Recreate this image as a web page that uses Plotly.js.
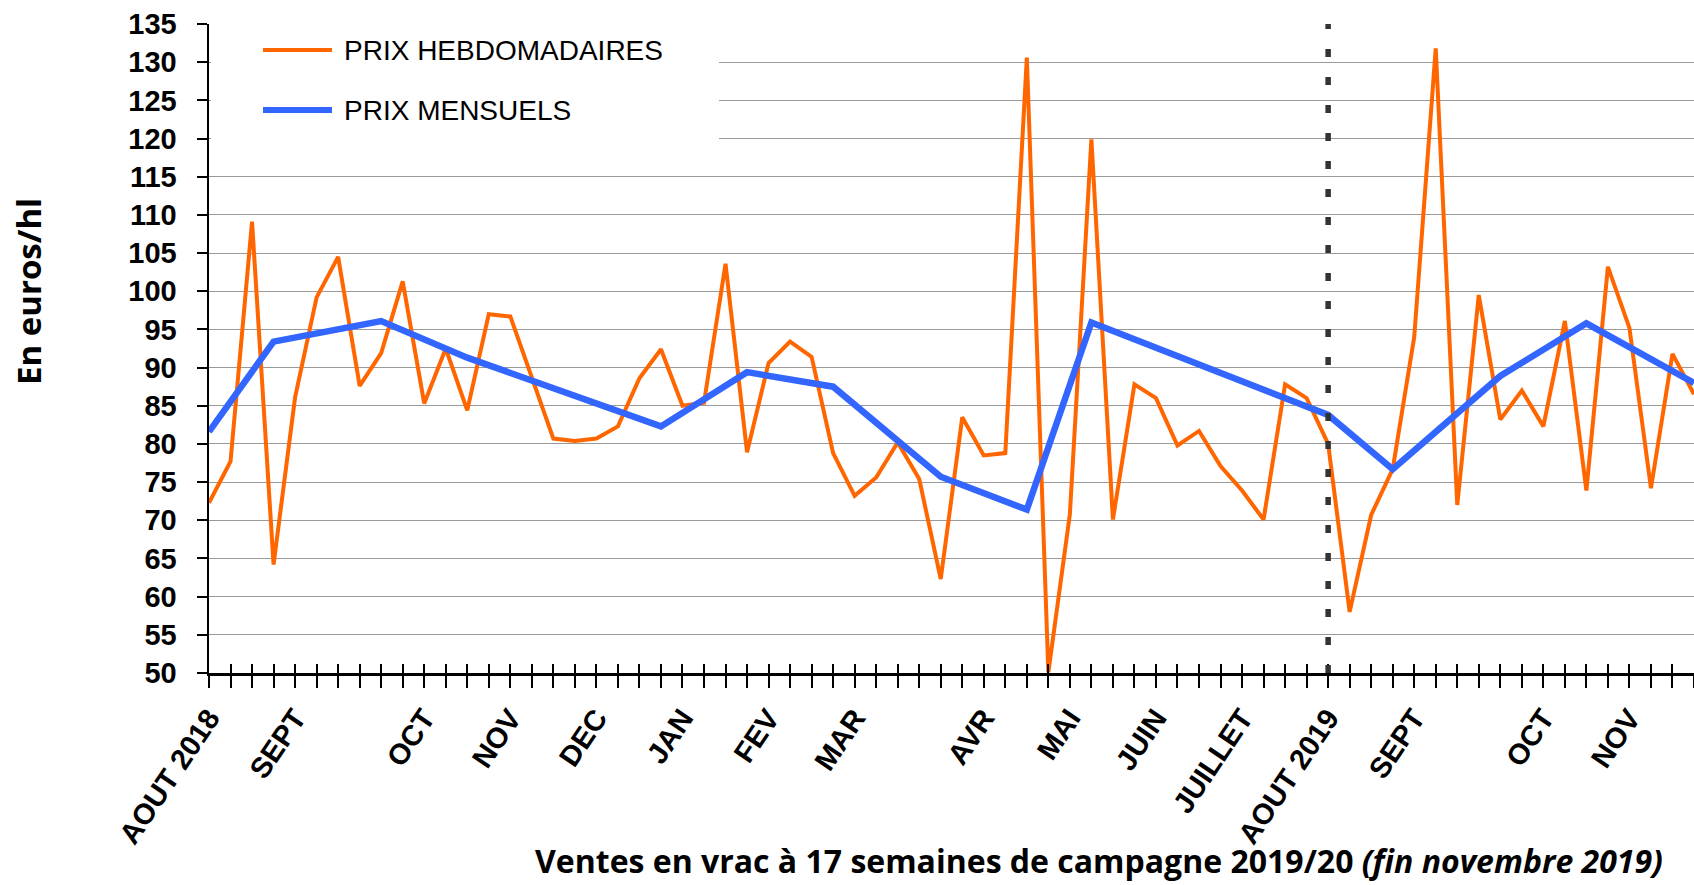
<!DOCTYPE html>
<html>
<head>
<meta charset="utf-8">
<script src="https://cdn.plot.ly/plotly-3.0.1.min.js"></script>
<style>
  html, body { margin: 0; padding: 0; background: #ffffff; }
  #chart { width: 1694px; height: 885px; }
</style>
</head>
<body>
<div id="chart"></div>
<script>
// ---- Data ----
const weeks = [0,1,2,3,4,5,6,7,8,9,10,11,12,13,14,15,16,17,18,19,20,21,22,23,24,25,26,27,28,29,30,31,32,33,34,35,36,37,38,39,40,41,42,43,44,45,46,47,48,49,50,51,52,53,54,55,56,57,58,59,60,61,62,63,64,65,66,67,68,69];
const weeklyPrices = [72.3,77.7,109.1,64.2,86.1,99.2,104.5,87.6,91.9,101.3,85.3,92.5,84.4,97.0,96.7,88.5,80.7,80.4,80.7,82.3,88.6,92.4,85.0,85.4,103.6,78.9,90.6,93.4,91.4,78.8,73.2,75.6,80.2,75.4,62.3,83.5,78.5,78.8,130.6,50.1,70.8,119.9,70.1,87.8,86.0,79.8,81.7,77.1,73.9,70.1,87.8,86.0,80.0,58.0,70.7,76.7,94.0,131.8,72.0,99.5,83.2,87.0,82.3,96.1,73.9,103.2,95.2,74.2,91.8,86.5];
const monthlyWeeks = [0,3,8,12,21,25,29,34,38,41,52,55,60,64,69];
const monthlyPrices = [81.6,93.4,96.1,91.3,82.3,89.4,87.5,75.7,71.4,95.9,83.8,76.7,88.9,95.8,88.0];
const monthTickWeeks = [0,4,10,14,18,22,26,30,36,40,44,48,52,56,62,66];
const monthTickLabels = ["AOUT 2018","SEPT","OCT","NOV","DEC","JAN","FEV","MAR","AVR","MAI","JUIN","JUILLET","AOUT 2019","SEPT","OCT","NOV"];
const campaignStartWeek = 52;
const seriesNames = ["PRIX HEBDOMADAIRES", "PRIX MENSUELS"];
const yTitle = "En euros/hl";
const xTitle = "Ventes en vrac à 17 semaines de campagne 2019/20 <i>(fin novembre 2019)</i>";

// ---- Styles ----
const ORANGE = "#FF6600";
const BLUE = "#3366FF";
const W = 1694, H = 885;
const L = 209, R = 0, T = 24, B = 212;
const plotW = W - L - R, plotH = H - T - B;
const px = v => (v - L) / plotW;          // pixel x -> paper
const py = v => (H - B - v) / plotH;      // pixel y -> paper

const traces = [
  {
    x: weeks, y: weeklyPrices, name: seriesNames[0], type: "scatter", mode: "lines",
    line: { color: ORANGE, width: 4, shape: "linear" }, showlegend: false, cliponaxis: true
  },
  {
    x: monthlyWeeks, y: monthlyPrices, name: seriesNames[1], type: "scatter", mode: "lines",
    line: { color: BLUE, width: 6.5, shape: "linear" }, showlegend: false
  },
  { x: [], y: [], xaxis: "x2", yaxis: "y", showlegend: false, hoverinfo: "skip" }
];

const tickFont = { family: "Liberation Sans, Arial, sans-serif", size: 29, color: "#000", weight: 700 };
const titleFamily = "Open Sans, Lato, sans-serif";

const layout = {
  width: W, height: H,
  margin: { l: L, r: R, t: T, b: B, pad: 0 },
  paper_bgcolor: "#ffffff", plot_bgcolor: "#ffffff",
  font: { family: "Liberation Sans, Arial, sans-serif", color: "#000" },
  showlegend: false,
  xaxis: {
    range: [0, 69], showgrid: false, zeroline: false,
    showline: true, linecolor: "#000", linewidth: 2.5,
    tickmode: "array", tickvals: monthTickWeeks, ticktext: monthTickLabels,
    ticks: "outside", ticklen: 12, tickwidth: 2, tickcolor: "#000",
    minor: { tickmode: "linear", tick0: 0, dtick: 1, ticks: "outside", ticklen: 12, tickwidth: 2, tickcolor: "#000", showgrid: false },
    tickangle: -56, tickfont: tickFont, ticklabelstandoff: 2
  },
  xaxis2: {
    overlaying: "x", anchor: "y", range: [0, 69], showgrid: false, zeroline: false, showline: false,
    tickmode: "linear", tick0: 0, dtick: 1, ticks: "inside", ticklen: 9, tickwidth: 2, tickcolor: "#000",
    showticklabels: false, side: "bottom"
  },
  yaxis: {
    range: [50, 135], tickmode: "linear", tick0: 50, dtick: 5,
    showgrid: true, gridcolor: "#9a9a9a", gridwidth: 1, zeroline: false,
    showline: true, linecolor: "#000", linewidth: 2.5,
    ticks: "outside", ticklen: 10, tickwidth: 2, tickcolor: "#000",
    tickfont: tickFont, ticklabelstandoff: 14
  },
  shapes: [
    // legend background (covers gridlines)
    { type: "rect", xref: "paper", yref: "paper", x0: px(211), x1: px(719), y0: py(155), y1: 1.03,
      fillcolor: "#ffffff", line: { width: 0 }, layer: "above" },
    // legend samples
    { type: "line", xref: "paper", yref: "paper", x0: px(263), x1: px(332), y0: py(50), y1: py(50),
      line: { color: ORANGE, width: 4 }, layer: "above" },
    { type: "line", xref: "paper", yref: "paper", x0: px(263), x1: px(332), y0: py(110), y1: py(110),
      line: { color: BLUE, width: 6 }, layer: "above" },
    // campaign start separator
    { type: "line", xref: "x", yref: "y", x0: campaignStartWeek, x1: campaignStartWeek, y0: 50, y1: 135,
      line: { color: "#333333", width: 5.5, dash: "8px,20px" }, layer: "above" }
  ],
  annotations: [
    { xref: "paper", yref: "paper", x: px(342), y: py(50), xanchor: "left", yanchor: "middle",
      text: seriesNames[0], showarrow: false, font: { family: "Liberation Sans, Arial, sans-serif", size: 28, color: "#000" } },
    { xref: "paper", yref: "paper", x: px(342), y: py(110), xanchor: "left", yanchor: "middle",
      text: seriesNames[1], showarrow: false, font: { family: "Liberation Sans, Arial, sans-serif", size: 28, color: "#000" } },
    { xref: "paper", yref: "paper", x: 0, xshift: -180, y: py(292), xanchor: "center", yanchor: "middle",
      text: yTitle, textangle: -90, showarrow: false, font: { family: titleFamily, size: 33, color: "#000", weight: 700 } },
    { xref: "paper", yref: "paper", x: px(1099), y: py(860), xanchor: "center", yanchor: "middle",
      text: xTitle, showarrow: false, font: { family: titleFamily, size: 32, color: "#000", weight: 700 } }
  ]
};

Plotly.newPlot("chart", traces, layout, { displayModeBar: false, staticPlot: true });
</script>
</body>
</html>
